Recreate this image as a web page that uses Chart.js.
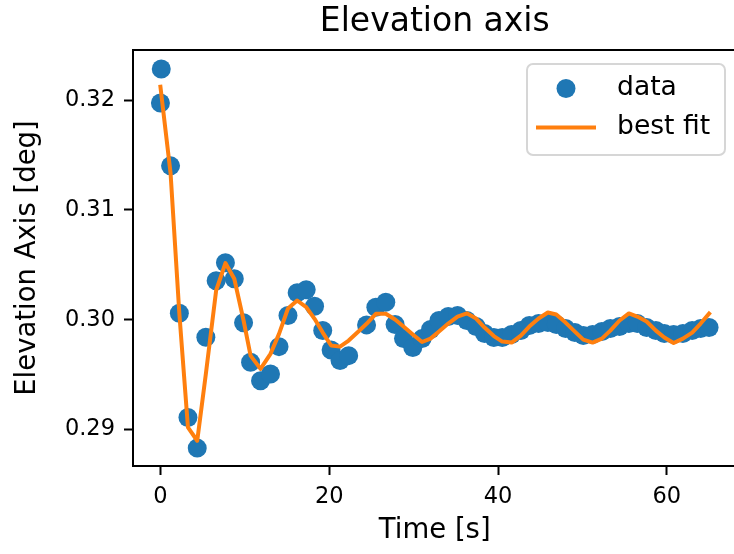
<!DOCTYPE html>
<html><head><meta charset="utf-8">
<script src="https://cdn.jsdelivr.net/npm/chart.js@4/dist/chart.umd.min.js"></script>
<style>
html,body{margin:0;padding:0;background:#fff;overflow:hidden;width:734px;height:554px}
#wrap{width:746px;height:554px;position:relative}
</style>
</head><body><div id="wrap"><canvas id="c" width="746" height="554"></canvas></div>
<script>
const chartTitle = 'Elevation axis';
const xAxisTitle = 'Time [s]';
const yAxisTitle = 'Elevation Axis [deg]';
const legendLabels = ['data', 'best fit'];
const xTicks = [0, 20, 40, 60];
const yTicks = [0.29, 0.30, 0.31, 0.32];

const dataTime = [0.1, 0.0, 1.2, 2.24, 3.26, 4.36, 5.38, 6.6, 7.7, 8.75, 9.85, 10.68, 11.86, 13.04, 14.05, 15.11, 16.2, 17.27, 18.26, 19.23, 20.22, 21.28, 22.3, 24.42, 25.52, 26.7, 27.8, 28.8, 29.9, 31.0, 32.0, 33.0, 34.1, 35.2, 36.3, 37.4, 38.4, 39.5, 40.5, 41.6, 42.7, 43.7, 44.8, 45.9, 46.9, 48.0, 49.1, 50.1, 51.2, 52.3, 53.3, 54.4, 55.5, 56.5, 57.6, 58.7, 59.7, 60.8, 61.9, 63.0, 64.0, 65.0];
const dataElevation = [0.32283, 0.31973, 0.31401, 0.30059, 0.29110, 0.28831, 0.29840, 0.30355, 0.30519, 0.30373, 0.29972, 0.29612, 0.29445, 0.29506, 0.29755, 0.30038, 0.30245, 0.30273, 0.30123, 0.29901, 0.29725, 0.29628, 0.29673, 0.29953, 0.30114, 0.30160, 0.29956, 0.29828, 0.29746, 0.29828, 0.29911, 0.29993, 0.30029, 0.30038, 0.29993, 0.29938, 0.29874, 0.29838, 0.29838, 0.29865, 0.29901, 0.29947, 0.29965, 0.29974, 0.29956, 0.29920, 0.29883, 0.29856, 0.29865, 0.29892, 0.29920, 0.29938, 0.29965, 0.29965, 0.29929, 0.29901, 0.29874, 0.29865, 0.29874, 0.29901, 0.29920, 0.29929];

const fitTime = [0.0, 1.2, 2.24, 3.26, 4.36, 5.38, 6.6, 7.7, 8.75, 9.85, 10.68, 11.86, 13.04, 14.05, 15.11, 16.2, 17.27, 18.26, 19.23, 20.22, 21.28, 22.3, 23.36, 24.42, 25.52, 26.7, 27.8, 28.8, 29.9, 31.0, 32.0, 33.0, 34.1, 35.2, 36.3, 37.4, 38.4, 39.5, 40.5, 41.6, 42.7, 43.7, 44.8, 45.9, 46.9, 48.0, 49.1, 50.1, 51.2, 52.3, 53.3, 54.4, 55.5, 56.5, 57.6, 58.7, 59.7, 60.8, 61.9, 63.0, 64.0, 65.0];
const fitElevation = [0.32121, 0.31334, 0.30057, 0.29019, 0.28898, 0.29506, 0.30266, 0.30516, 0.30373, 0.29993, 0.29673, 0.29552, 0.29689, 0.29871, 0.30102, 0.30175, 0.30114, 0.30008, 0.29883, 0.29765, 0.29755, 0.29810, 0.29886, 0.29963, 0.30054, 0.30054, 0.30002, 0.29938, 0.29865, 0.29797, 0.29828, 0.29892, 0.29965, 0.30029, 0.30058, 0.30011, 0.29929, 0.29851, 0.29801, 0.29792, 0.29856, 0.29938, 0.30011, 0.30066, 0.30047, 0.29974, 0.29892, 0.29819, 0.29792, 0.29828, 0.29901, 0.29993, 0.30057, 0.30029, 0.29984, 0.29901, 0.29838, 0.29788, 0.29828, 0.29883, 0.29965, 0.30055];

const FONT = "'DejaVu Sans', 'Liberation Sans', sans-serif";
const BLUE = '#1f77b4', ORANGE = '#ff7f0e';

const framePlugin = {
  id: 'frame',
  afterDatasetsDraw(chart) {
    const {ctx, chartArea: a} = chart;
    ctx.save();
    ctx.strokeStyle = '#000';
    ctx.lineWidth = 2;
    ctx.lineJoin = 'miter';
    ctx.strokeRect(a.left, a.top, a.right - a.left, a.bottom - a.top);
    // legend
    const bx = 527, by = 64, bw = 198, bh = 91, r = 6;
    ctx.beginPath();
    ctx.moveTo(bx + r, by);
    ctx.arcTo(bx + bw, by, bx + bw, by + bh, r);
    ctx.arcTo(bx + bw, by + bh, bx, by + bh, r);
    ctx.arcTo(bx, by + bh, bx, by, r);
    ctx.arcTo(bx, by, bx + bw, by, r);
    ctx.closePath();
    ctx.fillStyle = 'rgba(255,255,255,0.8)';
    ctx.fill();
    ctx.strokeStyle = '#d6d6d6';
    ctx.lineWidth = 2;
    ctx.stroke();
    const ds = chart.data.datasets;
    ctx.fillStyle = ds[1].backgroundColor;
    ctx.beginPath();
    ctx.arc(566, 88.5, 9.5, 0, Math.PI * 2);
    ctx.fill();
    ctx.strokeStyle = ds[0].borderColor;
    ctx.lineWidth = 4;
    ctx.lineCap = 'butt';
    ctx.beginPath();
    ctx.moveTo(536, 127.5);
    ctx.lineTo(596, 127.5);
    ctx.stroke();
    ctx.fillStyle = '#000';
    ctx.font = '26.6px ' + FONT;
    ctx.textBaseline = 'middle';
    ctx.textAlign = 'left';
    ctx.fillText(ds[1].label, 617, 88.5);
    ctx.fillText(ds[0].label, 617, 127.5);
    ctx.restore();
  }
};

new Chart(document.getElementById('c'), {
  type: 'scatter',
  data: {
    datasets: [
      {
        label: legendLabels[1],
        data: fitTime.map((t, i) => ({x: t, y: fitElevation[i]})),
        showLine: true,
        borderColor: ORANGE,
        backgroundColor: ORANGE,
        borderWidth: 4,
        pointRadius: 0,
        pointHoverRadius: 0,
        tension: 0,
        borderJoinStyle: 'round',
        borderCapStyle: 'square',
        order: 0
      },
      {
        label: legendLabels[0],
        data: dataTime.map((t, i) => ({x: t, y: dataElevation[i]})),
        showLine: false,
        backgroundColor: BLUE,
        borderColor: BLUE,
        borderWidth: 0,
        pointRadius: 9.5,
        pointHoverRadius: 9.5,
        order: 1
      }
    ]
  },
  options: {
    responsive: false,
    devicePixelRatio: 1,
    animation: false,
    events: [],
    layout: {padding: {left: 0, right: 6.6, top: 0, bottom: 0}},
    plugins: {
      legend: {display: false},
      tooltip: {enabled: false},
      title: {
        display: true,
        text: chartTitle,
        fullSize: false,
        color: '#000',
        font: {family: FONT, size: 33, weight: 'normal', lineHeight: 1.2},
        padding: {top: 3, bottom: 7.4}
      }
    },
    scales: {
      x: {
        type: 'linear',
        min: -3.25,
        max: 68.25,
        afterFit(s) { s.height = 88; },
        afterBuildTicks(s) { s.ticks = xTicks.map(v => ({value: v})); },
        grid: {display: true, drawOnChartArea: false, drawTicks: true, tickLength: 9, tickWidth: 2, tickColor: '#000'},
        border: {display: false},
        ticks: {color: '#000', padding: 9, maxRotation: 0, font: {family: FONT, size: 22.5}, callback: v => String(v)},
        title: {display: true, text: xAxisTitle, color: '#000', font: {family: FONT, size: 27.5, lineHeight: 1.2}, padding: {top: 0, bottom: 7}}
      },
      y: {
        type: 'linear',
        min: 0.28668,
        max: 0.32456,
        afterFit(s) { s.width = 133; },
        afterBuildTicks(s) { s.ticks = yTicks.map(v => ({value: v})); },
        grid: {display: true, drawOnChartArea: false, drawTicks: true, tickLength: 9, tickWidth: 2, tickColor: '#000'},
        border: {display: false},
        ticks: {color: '#000', padding: 9, font: {family: FONT, size: 22.5}, callback: v => Number(v).toFixed(2)},
        title: {display: true, text: yAxisTitle, color: '#000', font: {family: FONT, size: 27.5, lineHeight: 1.2}, padding: {top: 11, bottom: 0}}
      }
    }
  },
  plugins: [framePlugin]
});
</script>
</body></html>
